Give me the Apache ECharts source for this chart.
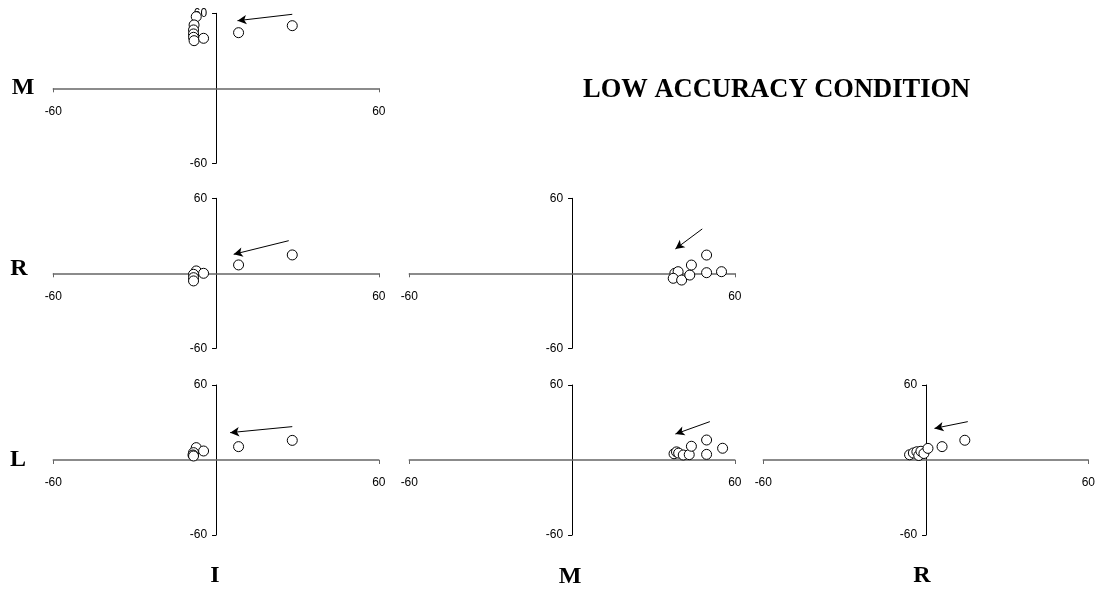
<!DOCTYPE html>
<html>
<head>
<meta charset="utf-8">
<script src="https://cdn.jsdelivr.net/npm/echarts@6/dist/echarts.min.js"></script>
<style>
html,body{margin:0;padding:0;background:#fff;}
#chart{width:1098px;height:590px;}
</style>
</head>
<body>
<div id="chart"></div>
<script>
// ---- data ----
const axisRange = [-60, 60];
const tickInterval = 120;
const rowLabels = ["M", "R", "L"];
const colLabels = ["I", "M", "R"];
const chartTitle = "LOW ACCURACY CONDITION";

// panel M (y) vs I (x)
const mI_x = [-7.3, -8.1, -8.3, -8.3, -8.3, -8.1, -4.6, 8.3, 28.1];
const mI_y = [57.3, 50.7, 46.7, 43.5, 40.8, 38.1, 40.0, 44.5, 50.1];
const mI_arrow = [[28.1, 59.2], [7.9, 54.1]];

// panel R (y) vs I (x)
const rI_x = [-7.3, -8.3, -8.3, -8.3, -4.6, 8.3, 28.1];
const rI_y = [1.9, -0.8, -3.5, -6.1, 0.0, 6.7, 14.7];
const rI_arrow = [[26.8, 26.1], [6.5, 15.2]];

// panel R (y) vs M (x)
const rM_x = [37.9, 39.1, 37.3, 40.4, 43.4, 44.0, 49.6, 49.6, 55.1];
const rM_y = [0.0, 1.3, -4.0, -5.4, -1.4, 6.6, 0.5, 14.6, 1.3];
const rM_arrow = [[48.0, 35.5], [38.1, 19.5]];

// panel L (y) vs I (x)
const lI_x = [-7.3, -4.6, -8.3, -8.5, -8.3, 8.3, 28.1];
const lI_y = [9.9, 7.2, 5.9, 4.0, 3.2, 10.7, 15.7];
const lI_arrow = [[28.1, 26.7], [5.2, 21.9]];

// panel L (y) vs M (x)
const lM_x = [37.6, 38.5, 39.3, 41.0, 43.2, 44.0, 49.6, 49.6, 55.5];
const lM_y = [5.0, 6.5, 5.5, 4.0, 4.3, 11.0, 4.5, 16.0, 9.4];
const lM_arrow = [[50.8, 30.7], [38.1, 20.8]];

// panel L (y) vs R (x)
const lR_x = [-6.0, -4.6, -3.3, -2.6, -1.8, -0.7, 0.8, 6.0, 14.4];
const lR_y = [4.2, 5.6, 6.6, 3.6, 7.0, 5.2, 9.3, 10.7, 15.8];
const lR_arrow = [[15.5, 30.7], [3.2, 25.3]];

// ---- layout ----
const colLeft = [53.3, 409.3, 763.3];
const colWidth = 325.5;
const rowTop = [13.3, 198.3, 385];
const rowHeight = 150;

const panels = [
  {r: 0, c: 0, xs: mI_x, ys: mI_y, arrow: mI_arrow},
  {r: 1, c: 0, xs: rI_x, ys: rI_y, arrow: rI_arrow},
  {r: 1, c: 1, xs: rM_x, ys: rM_y, arrow: rM_arrow},
  {r: 2, c: 0, xs: lI_x, ys: lI_y, arrow: lI_arrow},
  {r: 2, c: 1, xs: lM_x, ys: lM_y, arrow: lM_arrow},
  {r: 2, c: 2, xs: lR_x, ys: lR_y, arrow: lR_arrow}
];

const grids = [], xAxes = [], yAxes = [], series = [];
const tickFont = {fontFamily: '"Liberation Sans", Arial, sans-serif', fontSize: 12, color: '#000'};

panels.forEach((p, i) => {
  grids.push({left: colLeft[p.c], top: rowTop[p.r], width: colWidth, height: rowHeight, containLabel: false});
  xAxes.push({
    type: 'value', gridIndex: i, min: axisRange[0], max: axisRange[1], interval: tickInterval,
    position: 'bottom', offset: -rowHeight / 2,
    axisLine: {show: true, onZero: false, lineStyle: {color: '#666', width: 1.5}},
    axisTick: {show: true, length: 4, lineStyle: {color: '#666'}},
    axisLabel: {show: true, margin: 17, ...tickFont},
    splitLine: {show: false}
  });
  yAxes.push({
    type: 'value', gridIndex: i, min: axisRange[0], max: axisRange[1], interval: tickInterval,
    position: 'left', offset: -colWidth / 2,
    axisLine: {show: true, onZero: false, lineStyle: {color: '#000', width: 1}},
    axisTick: {show: true, length: 4, lineStyle: {color: '#000'}},
    axisLabel: {show: true, margin: 9, ...tickFont},
    splitLine: {show: false}
  });
  series.push({
    type: 'scatter', xAxisIndex: i, yAxisIndex: i,
    data: p.xs.map((x, k) => [x, p.ys[k]]),
    symbol: 'circle', symbolSize: 10,
    itemStyle: {color: '#fff', borderColor: '#000', borderWidth: 1, opacity: 1},
    silent: true,
    markLine: {
      silent: true, animation: false,
      symbol: ['none', 'arrow'], symbolSize: [7, 9],
      label: {show: false},
      lineStyle: {color: '#000', width: 1, type: 'solid'},
      data: [[{coord: p.arrow[0]}, {coord: p.arrow[1]}]]
    }
  });
});

const serif = '"Liberation Serif", "Times New Roman", serif';
const lab = (t, x, y) => ({type: 'text', x: x, y: y, style: {text: t, font: 'bold 24px ' + serif, fill: '#000', textAlign: 'center', textVerticalAlign: 'middle'}});
const graphics = [
  {type: 'text', x: 583, y: 90, style: {text: chartTitle, font: 'bold 26.5px ' + serif, fill: '#000', textAlign: 'left', textVerticalAlign: 'middle'}},
  lab(rowLabels[0], 23, 88),
  lab(rowLabels[1], 19, 269),
  lab(rowLabels[2], 18, 460),
  lab(colLabels[0], 215, 576),
  lab(colLabels[1], 570, 577),
  lab(colLabels[2], 922, 576)
];

const chart = echarts.init(document.getElementById('chart'), null, {renderer: 'canvas'});
chart.setOption({
  animation: false,
  backgroundColor: '#fff',
  grid: grids, xAxis: xAxes, yAxis: yAxes, series: series,
  graphic: graphics
});
</script>
</body>
</html>
